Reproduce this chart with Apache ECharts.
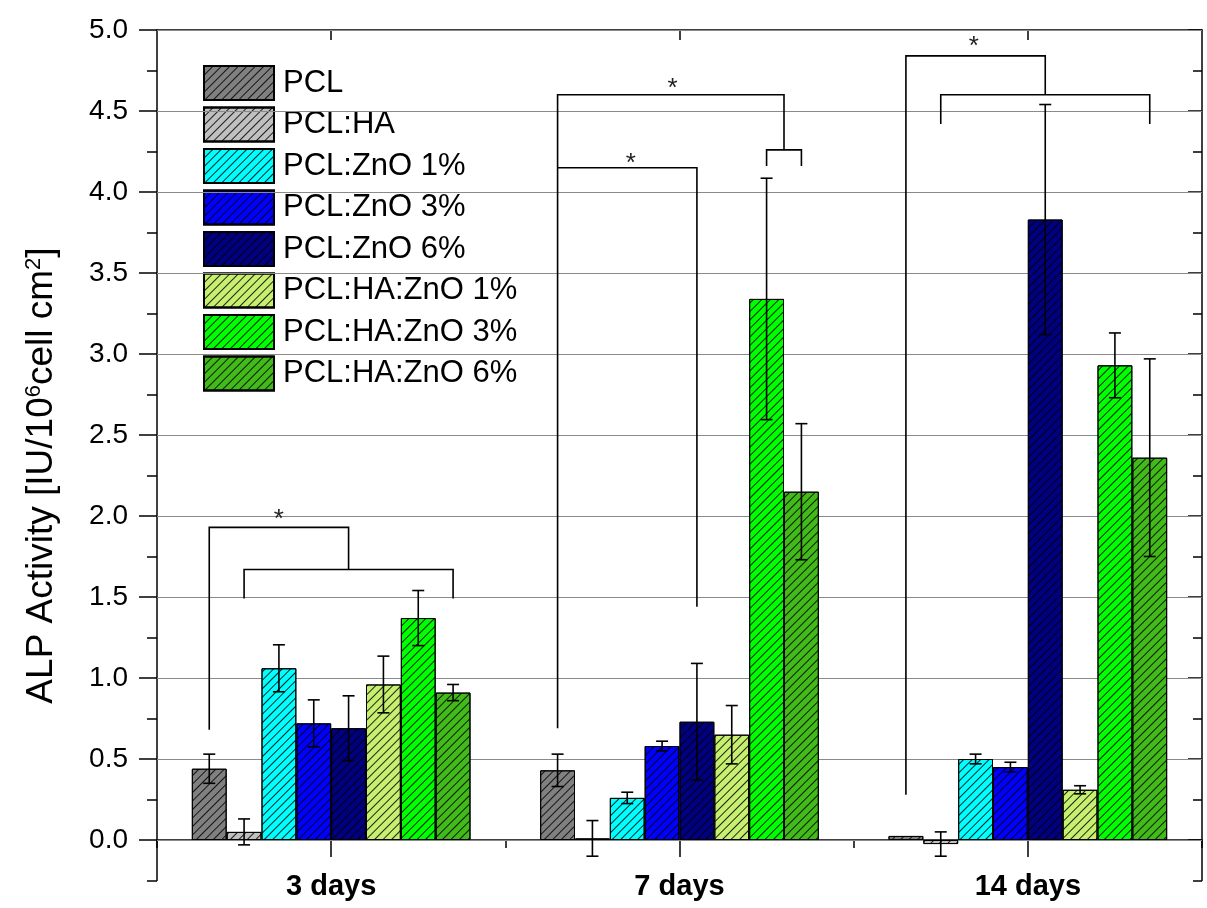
<!DOCTYPE html>
<html>
<head>
<meta charset="utf-8">
<script src="https://cdn.jsdelivr.net/npm/echarts@6/dist/echarts.min.js"></script>
<style>html,body{margin:0;padding:0;background:#fff}#chart{width:1207px;height:908px}</style>
</head>
<body>
<div id="chart"></div>
<script>
// ---------- data ----------
const categories = ['3 days', '7 days', '14 days'];
const seriesNames = ['PCL', 'PCL:HA', 'PCL:ZnO 1%', 'PCL:ZnO 3%', 'PCL:ZnO 6%', 'PCL:HA:ZnO 1%', 'PCL:HA:ZnO 3%', 'PCL:HA:ZnO 6%'];
const pcl        = [0.44, 0.43, 0.025];
const pclHA      = [0.05, 0.01, -0.025];
const pclZnO1    = [1.06, 0.26, 0.50];
const pclZnO3    = [0.72, 0.58, 0.45];
const pclZnO6    = [0.69, 0.73, 3.83];
const pclHAZnO1  = [0.96, 0.65, 0.31];
const pclHAZnO3  = [1.37, 3.34, 2.93];
const pclHAZnO6  = [0.91, 2.15, 2.36];
const pclErr       = [0.09, 0.10, 0.0];
const pclHAErr     = [0.08, 0.11, 0.075];
const pclZnO1Err   = [0.145, 0.035, 0.03];
const pclZnO3Err   = [0.145, 0.03, 0.03];
const pclZnO6Err   = [0.20, 0.36, 0.71];
const pclHAZnO1Err = [0.175, 0.18, 0.025];
const pclHAZnO3Err = [0.17, 0.745, 0.20];
const pclHAZnO6Err = [0.05, 0.42, 0.61];
const yMin = -0.25, yMax = 5.0, yStep = 0.5;
const yTitle = 'ALP Activity [IU/10{sup|6}cell cm{sup|2}]';
// significance brackets: points as [categoryIndex, barIndex, value]
const bracketLines = [
  [[0, 0, 0.68], [0, 0, 1.93], [0, 4, 1.93], [0, 4, 1.67]],
  [[0, 1, 1.49], [0, 1, 1.67], [0, 7, 1.67], [0, 7, 1.49]],
  [[1, 0, 0.69], [1, 0, 4.60], [1, 6.5, 4.60], [1, 6.5, 4.26]],
  [[1, 6, 4.16], [1, 6, 4.26], [1, 7, 4.26], [1, 7, 4.16]],
  [[1, 0, 4.15], [1, 4, 4.15], [1, 4, 1.44]],
  [[2, 0, 0.28], [2, 0, 4.84], [2, 4, 4.84], [2, 4, 4.60]],
  [[2, 1, 4.42], [2, 1, 4.60], [2, 7, 4.60], [2, 7, 4.42]]
];
const stars = [[0, 2.0, 2.02], [1, 3.3, 4.68], [1, 2.1, 4.22], [2, 1.95, 4.94]];

// ---------- styles ----------
const values = [pcl, pclHA, pclZnO1, pclZnO3, pclZnO6, pclHAZnO1, pclHAZnO3, pclHAZnO6];
const errors = [pclErr, pclHAErr, pclZnO1Err, pclZnO3Err, pclZnO6Err, pclHAZnO1Err, pclHAZnO3Err, pclHAZnO6Err];
const colors = ['#808080', '#c0c0c0', '#00ffff', '#0000ff', '#000080', '#c8f070', '#00ff00', '#42bb1a'];
const FONT = 'Liberation Sans, Arial, sans-serif';
const NBARS = seriesNames.length;
const GAP = 0.2;
const PX = 162; // pixels per unit

const chart = echarts.init(document.getElementById('chart'), null, {renderer: 'canvas'});

function barX(api, cat, idx, v) {
  const c = api.coord([cat, v]);
  const band = api.size([1, 0])[0];
  const bw = band * (1 - GAP) / NBARS;
  return [c[0] - band * (1 - GAP) / 2 + (idx + 0.5) * bw, c[1]];
}

const barSeries = seriesNames.map((name, i) => ({
  name: name,
  type: 'bar',
  xAxisIndex: 0,
  yAxisIndex: 0,
  barGap: '0%',
  barCategoryGap: (GAP * 100) + '%',
  z: 2,
  itemStyle: {
    color: colors[i],
    borderColor: '#000',
    borderWidth: 1,
    decal: {
      symbol: 'rect',
      symbolSize: 1,
      dashArrayX: [1, 0],
      dashArrayY: [1, 5],
      rotation: -Math.PI / 4,
      color: 'rgba(0,0,0,0.85)'
    }
  },
  emphasis: {disabled: true},
  data: values[i]
}));

const errData = [];
values.forEach((arr, si) => {
  arr.forEach((v, ci) => {
    errData.push([ci, si, v - errors[si][ci], v + errors[si][ci]]);
  });
});

const errSeries = {
  type: 'custom',
  name: 'err',
  xAxisIndex: 0,
  yAxisIndex: 0,
  z: 3,
  silent: true,
  encode: {x: 0, y: [2, 3]},
  data: errData,
  renderItem: function (params, api) {
    const cat = api.value(0), si = api.value(1), lo = api.value(2), hi = api.value(3);
    if (hi - lo <= 0) return null;
    const top = barX(api, cat, si, hi);
    const bot = barX(api, cat, si, lo);
    const x = top[0], cap = 6;
    const st = {stroke: '#000', lineWidth: 1.6};
    return {
      type: 'group',
      children: [
        {type: 'line', shape: {x1: x, y1: top[1], x2: x, y2: bot[1]}, style: st},
        {type: 'line', shape: {x1: x - cap, y1: top[1], x2: x + cap, y2: top[1]}, style: st},
        {type: 'line', shape: {x1: x - cap, y1: bot[1], x2: x + cap, y2: bot[1]}, style: st}
      ]
    };
  }
};

const bracketSeries = {
  type: 'custom',
  name: 'brackets',
  xAxisIndex: 0,
  yAxisIndex: 0,
  z: 4,
  silent: true,
  data: bracketLines.map((_, i) => [i]),
  renderItem: function (params, api) {
    const pts = bracketLines[params.dataIndex].map(p => barX(api, p[0], p[1], p[2]));
    return {type: 'polyline', shape: {points: pts}, style: {stroke: '#000', lineWidth: 1.6, fill: null}};
  }
};

const starSeries = {
  type: 'custom',
  name: 'stars',
  xAxisIndex: 0,
  yAxisIndex: 0,
  z: 4,
  silent: true,
  data: stars.map((_, i) => [i]),
  renderItem: function (params, api) {
    const s = stars[params.dataIndex];
    const p = barX(api, s[0], s[1], s[2]);
    return {type: 'text', x: p[0], y: p[1] + 7,
      style: {text: '*', fontSize: 26, fontFamily: FONT, fill: '#222', align: 'center', verticalAlign: 'middle'}};
  }
};

const axisBlack = {color: '#000', width: 1.5};

const option = {
  backgroundColor: '#ffffff',
  animation: false,
  textStyle: {fontFamily: FONT},
  grid: [
    {left: 157, right: 5, top: 30, height: (yMax + yStep) * PX, containLabel: false, outerBoundsMode: 'none'},
    {left: 157, right: 5, top: 30, height: (yMax - yMin) * PX, containLabel: false, outerBoundsMode: 'none'},
    {left: 157, right: 5, top: 30, height: yMax * PX, containLabel: false, outerBoundsMode: 'none'}
  ],
  legend: {
    orient: 'vertical',
    left: 203,
    top: 65,
    z: 0,
    padding: 0,
    itemWidth: 70,
    itemHeight: 34,
    itemGap: 5.5,
    icon: 'rect',
    selectedMode: false,
    data: seriesNames,
    textStyle: {fontSize: 31, color: '#000', fontFamily: FONT, padding: [0, 0, 0, 4]}
  },
  xAxis: [
    {
      gridIndex: 0, type: 'category', data: categories, position: 'bottom',
      axisLine: {show: true, onZero: true, onZeroAxisIndex: 0, lineStyle: axisBlack},
      axisTick: {show: true, alignWithLabel: true, length: 17, lineStyle: axisBlack},
      axisLabel: {show: false},
      splitLine: {show: false}
    },
    {
      gridIndex: 0, type: 'category', data: categories, position: 'bottom',
      axisLine: {show: false, onZero: true, onZeroAxisIndex: 0},
      axisTick: {show: true, length: 8, lineStyle: axisBlack},
      axisLabel: {show: false}, splitLine: {show: false}
    },
    {
      gridIndex: 0, type: 'category', data: categories, position: 'top',
      axisLine: {show: true, onZero: false, lineStyle: axisBlack},
      axisTick: {show: true, alignWithLabel: true, inside: true, length: 10, lineStyle: axisBlack},
      axisLabel: {show: false}, splitLine: {show: false}
    },
    {gridIndex: 1, type: 'value', min: 0, max: 1, show: false},
    {
      gridIndex: 2, type: 'category', data: categories, position: 'bottom',
      axisLine: {show: false, onZero: false}, axisTick: {show: false}, splitLine: {show: false},
      axisLabel: {fontSize: 29, fontWeight: 'bold', color: '#000', margin: 32, fontFamily: FONT}
    }
  ],
  yAxis: [
    {
      gridIndex: 0, type: 'value', position: 'left', min: -yStep, max: yMax, interval: yStep, z: 1,
      name: yTitle, nameLocation: 'middle', nameGap: 97,
      nameTextStyle: {fontSize: 37, color: '#000', fontFamily: FONT,
        rich: {sup: {fontSize: 22, color: '#000', fontFamily: FONT, verticalAlign: 'top', padding: [0, 0, 14, 0]}}},
      axisLine: {show: false},
      axisTick: {show: true, length: 18, lineStyle: axisBlack},
      minorTick: {show: true, splitNumber: 2, length: 10, lineStyle: axisBlack},
      axisLabel: {fontSize: 28, color: '#000', margin: 29, fontFamily: FONT,
        formatter: v => (v < 0 ? '' : v.toFixed(1))},
      splitLine: {show: true, lineStyle: {color: '#8a8a8a', width: 1.2}}
    },
    {
      gridIndex: 0, type: 'value', position: 'right', min: -yStep, max: yMax, interval: yStep,
      axisLine: {show: false},
      axisTick: {show: true, inside: true, length: 14, lineStyle: axisBlack},
      minorTick: {show: true, splitNumber: 2, length: 9, lineStyle: axisBlack},
      axisLabel: {show: false}, splitLine: {show: false}
    },
    {
      gridIndex: 1, type: 'value', position: 'left', min: yMin, max: yMax, interval: 0.25,
      axisLine: {show: true, lineStyle: axisBlack}, axisTick: {show: false}, axisLabel: {show: false}, splitLine: {show: false}
    },
    {
      gridIndex: 1, type: 'value', position: 'right', min: yMin, max: yMax, interval: 0.25,
      axisLine: {show: true, lineStyle: axisBlack}, axisTick: {show: false}, axisLabel: {show: false}, splitLine: {show: false}
    },
    {gridIndex: 2, type: 'value', min: 0, max: yMax, show: false}
  ],
  series: barSeries.concat([errSeries, bracketSeries, starSeries])
};

chart.setOption(option);
</script>
</body>
</html>
